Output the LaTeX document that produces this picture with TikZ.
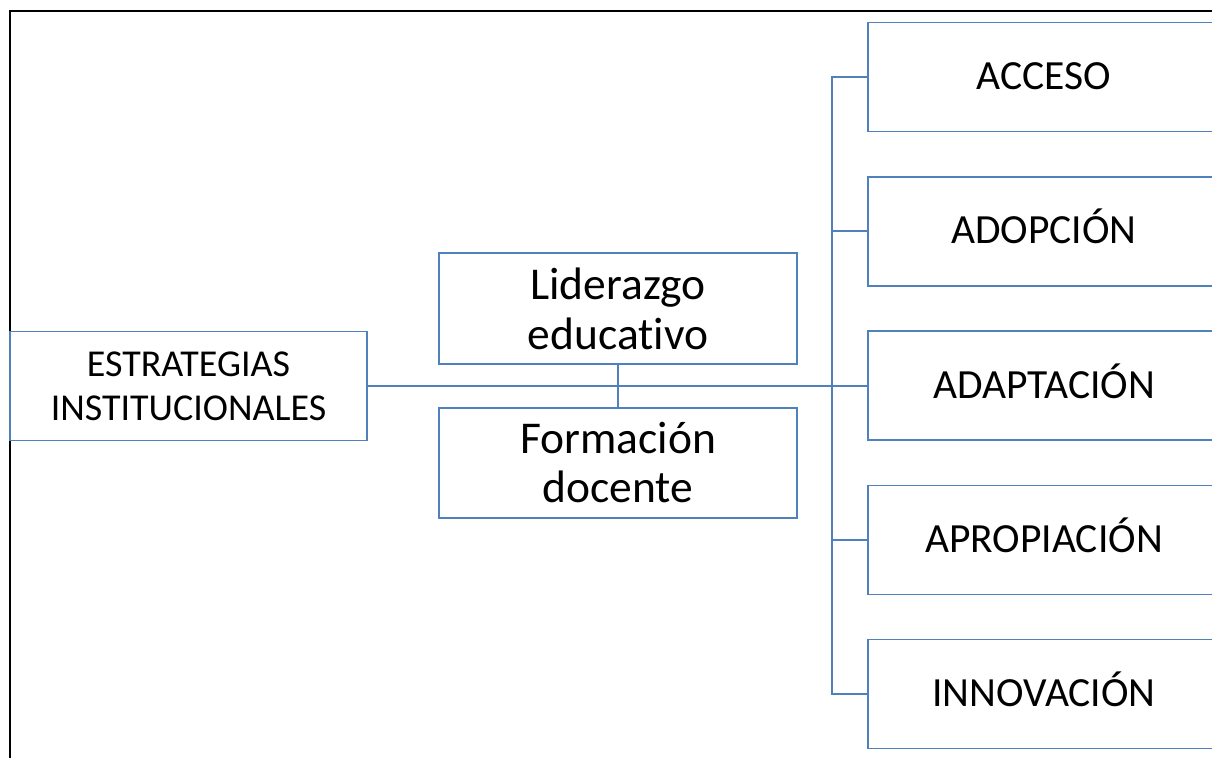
\documentclass[tikz,border=0pt]{standalone}
\usepackage{fontspec}
\setmainfont{Carlito}[Ligatures={NoCommon}]
\usepackage{xcolor}
\definecolor{azul}{RGB}{79,129,189}

\begin{document}
\begin{tikzpicture}[x=1pt,y=-1pt]
            \useasboundingbox (0,0) rectangle (1212,758);
            % Marco
            \draw[line width=1.6pt] (10,758) -- (10,11) -- (1212,11);

            % Nodos
            \node[draw=azul, line width=1.5pt, minimum width=357pt, minimum height=109pt, inner sep=0pt, align=center, font=\fontsize{38}{44}\selectfont] (estr) at (188.5,386) {ESTRATEGIAS\\INSTITUCIONALES};
            \node[draw=azul, line width=1.5pt, minimum width=358pt, minimum height=111pt, inner sep=0pt, align=center, font=\fontsize{45.5}{50}\selectfont] (lider) at (618,308.5) {Liderazgo\\educativo};
            \node[draw=azul, line width=1.5pt, minimum width=358pt, minimum height=110pt, inner sep=0pt, align=center, font=\fontsize{45.5}{49}\selectfont] (form) at (618,463) {Formación\\docente};
            \foreach \n/\txt [count=\i] in {acceso/ACCESO, adopcion/ADOPCIÓN, adapt/ADAPTACIÓN, apropia/APROPIACIÓN, innova/INNOVACIÓN} {
                    \node[draw=azul, line width=1.5pt, minimum width=352pt, minimum height=109pt, inner sep=0pt, text height=25pt, text depth=0pt, font=\fontsize{41.5}{48}\selectfont] (\n) at (1044,{77+(\i-1)*154.25}) {\txt};
                }

            % Conectores
            \coordinate (tronco) at (832,0);
            \draw[azul, line width=1.8pt] (estr.east) -- (estr.east -| adapt.west);
            \draw[azul, line width=1.5pt] (lider.south) -- (form.north);
            \draw[azul, line width=1.5pt] (acceso.west) -- (acceso.west -| tronco) -- (innova.west -| tronco) -- (innova.west);
            \foreach \n in {adopcion, apropia} {
                    \draw[azul, line width=1.8pt] (\n.west) -- (\n.west -| tronco);
                }
        \end{tikzpicture}
\end{document}
